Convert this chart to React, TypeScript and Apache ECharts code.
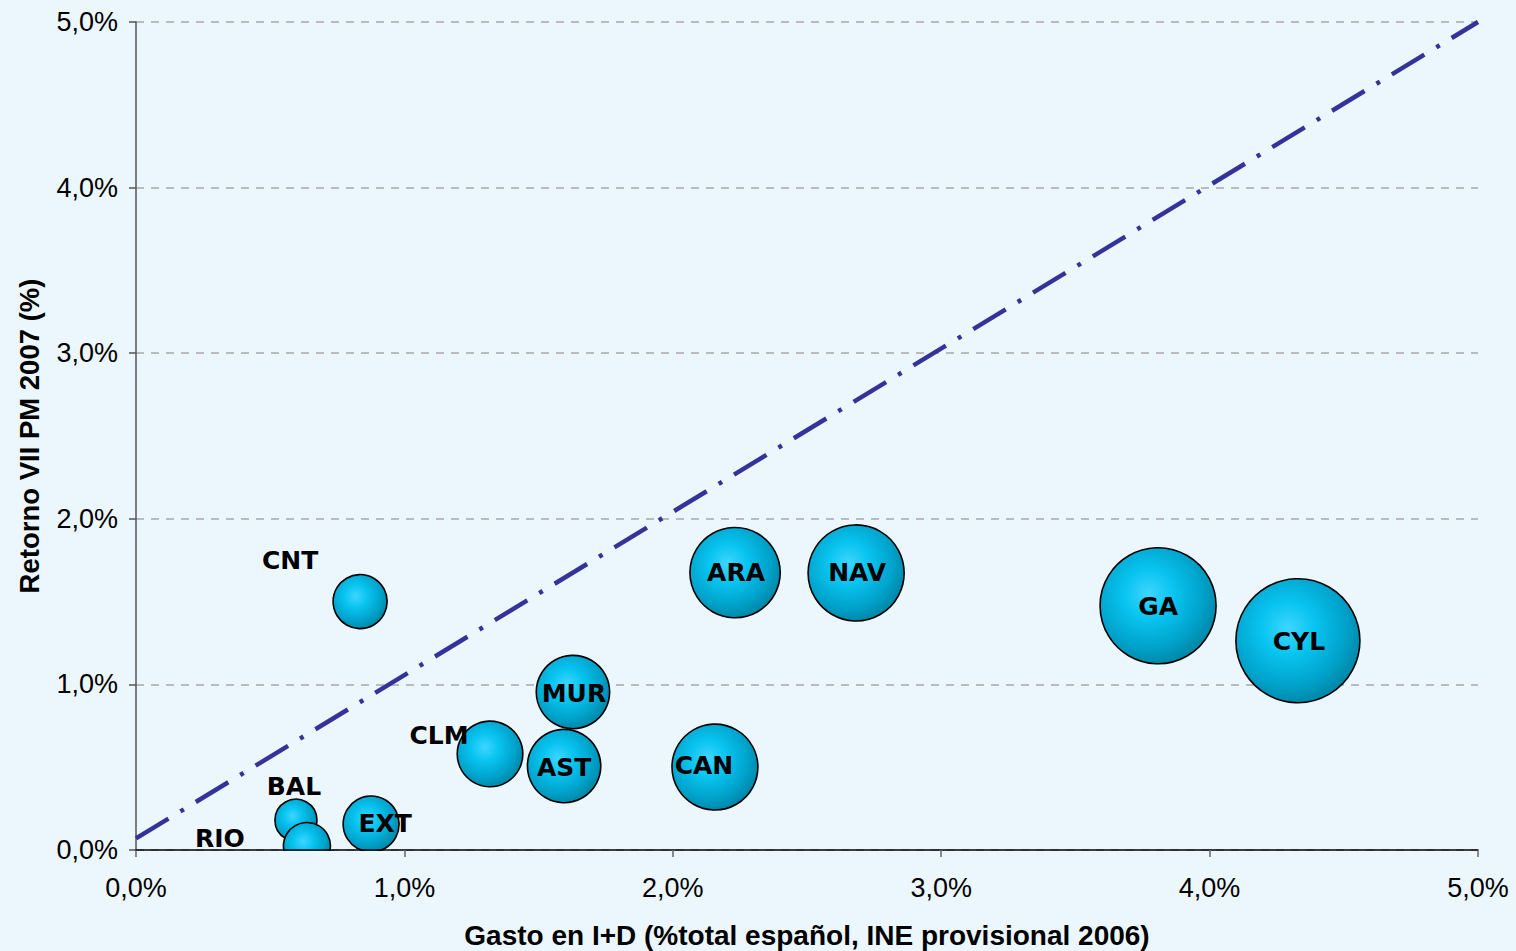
import React, { useEffect, useRef } from "react";
import * as echarts from "echarts";

const regions = ["CNT", "ARA", "NAV", "GA", "CYL", "MUR", "CLM", "AST", "CAN", "EXT", "BAL", "RIO"];
const gastoID = [0.835, 2.232, 2.683, 3.808, 4.329, 1.628, 1.319, 1.595, 2.157, 0.876, 0.596, 0.637];
const retorno = [1.5, 1.675, 1.673, 1.475, 1.264, 0.954, 0.58, 0.507, 0.501, 0.157, 0.18, 0.024];
const bubbleSize = [19, 53, 60, 87.5, 100, 35, 28, 35, 48, 20.4, 11.5, 14.4];
const diagX = [0, 5];
const diagY = [0.07, 5];
const axisMin = 0;
const axisMax = 5;
const axisStep = 1;
const xTitle = "Gasto en I+D (%total español, INE provisional 2006)";
const yTitle = "Retorno VII PM 2007 (%)";

const labelOffset: Record<string, [number, number]> = {
  CNT: [-70, -41],
  CLM: [-51, -18],
  BAL: [-2, -34],
  RIO: [-87, -8],
  EXT: [14, -1],
  CAN: [-11, -2],
  MUR: [1, 1],
  AST: [0, 1],
  ARA: [1, 0],
  NAV: [1, 0],
  GA: [0, 1],
  CYL: [1, 1],
};

const fmt = (v: number) => v.toFixed(1).replace(".", ",") + "%";

export default function App() {
  const ref = useRef<HTMLDivElement>(null);
  useEffect(() => {
    if (!ref.current) return;
    const chart = echarts.init(ref.current, null, { renderer: "svg" });
    const bubbleGrad = {
      type: "radial",
      x: 0.42,
      y: 0.4,
      r: 0.62,
      colorStops: [
        { offset: 0, color: "#3ED6FF" },
        { offset: 0.35, color: "#08C4F0" },
        { offset: 0.75, color: "#00A2CA" },
        { offset: 1, color: "#0086A6" },
      ],
    };
    const tickFont = { fontFamily: "Liberation Sans", fontSize: 27, color: "#000" };
    const option: any = {
      animation: false,
      backgroundColor: "#ECF7FD",
      grid: { left: 136, right: 38, top: 22, bottom: 101, containLabel: false, outerBoundsMode: "none" },
      xAxis: {
        type: "value",
        min: axisMin,
        max: axisMax,
        interval: axisStep,
        z: 10,
        name: xTitle,
        nameLocation: "middle",
        nameGap: 71,
        nameTextStyle: { fontFamily: "Liberation Sans", fontSize: 28, fontWeight: "bold", color: "#000" },
        axisLine: { show: true, onZero: false, lineStyle: { color: "#000", width: 1.5 } },
        axisTick: { show: true, length: 7, lineStyle: { color: "#666", width: 1.5 } },
        axisLabel: { ...tickFont, margin: 24, formatter: fmt },
        splitLine: { show: false },
      },
      yAxis: {
        type: "value",
        min: axisMin,
        max: axisMax,
        interval: axisStep,
        name: yTitle,
        nameLocation: "middle",
        nameGap: 93,
        nameRotate: 90,
        nameTextStyle: { fontFamily: "Liberation Sans", fontSize: 27.5, fontWeight: "bold", color: "#000" },
        axisLine: { show: true, onZero: false, lineStyle: { color: "#555", width: 1.5 } },
        axisTick: { show: true, length: 7, lineStyle: { color: "#555", width: 1.5 } },
        axisLabel: { ...tickFont, margin: 18, formatter: fmt },
        splitLine: { show: true, lineStyle: { color: "#A8A8A8", width: 1.5, type: [8, 7] } },
      },
      graphic: [
        {
          type: "rect",
          z: 5,
          silent: true,
          shape: { x: 137, y: 851, width: 1379, height: 100 },
          style: { fill: "#ECF7FD" },
        },
      ],
      series: [
        {
          type: "line",
          data: diagX.map((x, i) => [x, diagY[i]]),
          showSymbol: false,
          symbol: "none",
          z: 1,
          lineStyle: { color: "#333399", width: 4.5, type: [38, 14, 4, 14], cap: "butt" },
        },
        {
          type: "scatter",
          z: 2,
          data: regions.map((n, i) => ({
            name: n,
            value: [gastoID[i], retorno[i], bubbleSize[i]],
            label: { offset: labelOffset[n] },
          })),
          symbolSize: (val: number[]) => 124 * Math.sqrt(val[2] / 100),
          itemStyle: { color: bubbleGrad, borderColor: "#000", borderWidth: 1.6, opacity: 1 },
          label: {
            show: true,
            position: "inside",
            formatter: "{b}",
            fontFamily: "DejaVu Sans",
            fontSize: 25,
            fontWeight: "bold",
            color: "#000",
          },
          emphasis: { disabled: true },
        },
      ],
    };
    chart.setOption(option);
    return () => chart.dispose();
  }, []);
  return (
    <div
      ref={ref}
      style={{ position: "fixed", left: 0, top: 0, width: "1516px", height: "951px" }}
    />
  );
}
